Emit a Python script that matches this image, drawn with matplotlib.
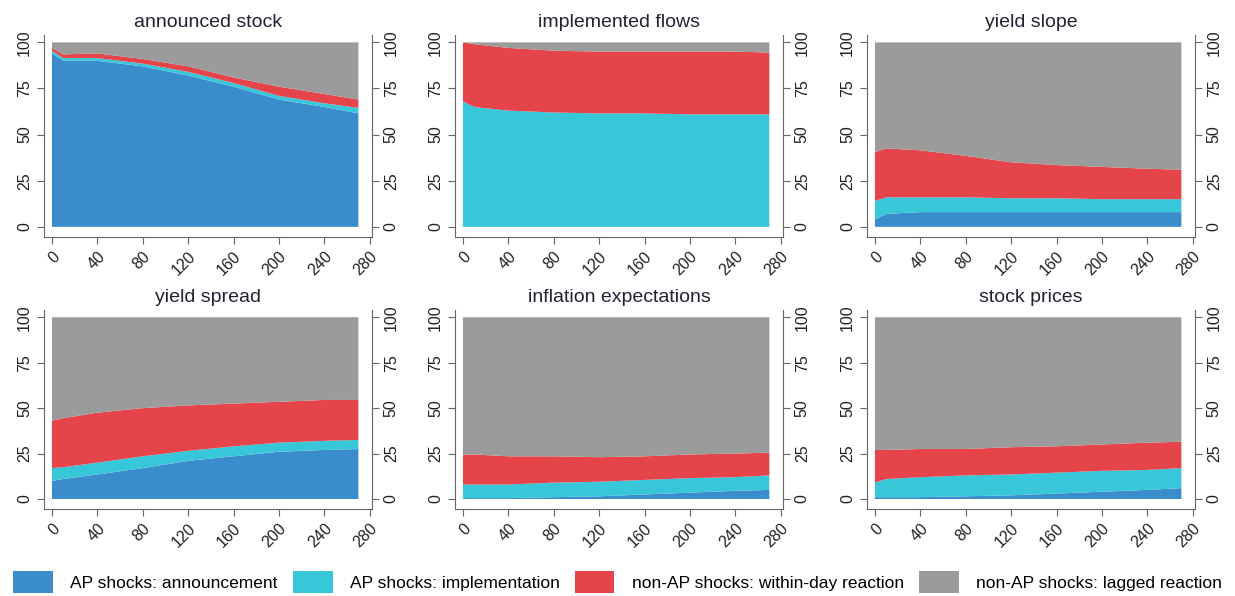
import matplotlib.pyplot as plt
from matplotlib.patches import Patch

plt.rcParams['font.family'] = ['Liberation Sans', 'DejaVu Sans']

# horizon (days) at which the shares were computed
days = [0, 10, 40, 80, 120, 160, 200, 240, 270]

titles = ["announced stock", "implemented flows", "yield slope",
          "yield spread", "inflation expectations", "stock prices"]

labels = ["AP shocks: announcement", "AP shocks: implementation",
          "non-AP shocks: within-day reaction", "non-AP shocks: lagged reaction"]
colors = ["#3b8ccb", "#38c6d9", "#e6444b", "#9b9b9b"]

# variance shares (%) per panel
stock_ann = [94, 90, 90, 87, 82, 76, 69, 65, 61.5]
stock_imp = [1.5, 1.5, 1.5, 1.5, 2, 2, 2, 2, 3]
stock_wd = [1.5, 2, 2.5, 2.5, 3, 3, 5, 5, 4.5]
stock_lag = [3, 6.5, 6, 9, 13, 19, 24, 28, 31]

flows_ann = [0, 0, 0, 0, 0, 0, 0, 0, 0]
flows_imp = [68, 65, 63, 62, 61.5, 61.5, 61, 61, 61]
flows_wd = [32, 34, 34, 33.5, 33.5, 33.5, 34, 34, 33.5]
flows_lag = [0, 1, 3, 4.5, 5, 5, 5, 5, 5.5]

slope_ann = [4, 7, 8, 8, 8, 8, 8, 8, 8]
slope_imp = [10, 9, 8, 8, 7.5, 7.5, 7, 7, 7]
slope_wd = [26.5, 26.5, 25.5, 22.5, 19.5, 18, 17.5, 16.5, 16]
slope_lag = [59.5, 57.5, 58.5, 61.5, 65, 66.5, 67.5, 68.5, 69]

spread_ann = [10, 11, 13.5, 17, 21, 23.5, 26, 27, 27.5]
spread_imp = [7, 6.5, 6.5, 6.5, 5.5, 5.5, 5, 5, 5]
spread_wd = [26, 27, 27.5, 26.5, 25, 23.5, 22.5, 22.5, 22]
spread_lag = [57, 55.5, 52.5, 50, 48.5, 47.5, 46.5, 45.5, 45.5]

infl_ann = [0.5, 0.5, 0.5, 1, 1.5, 2.5, 3.5, 4.5, 5]
infl_imp = [7.5, 7.5, 7.5, 8, 8, 8, 8, 7.5, 8]
infl_wd = [16.5, 16.5, 15.5, 14.5, 13.5, 13, 13, 13, 12.5]
infl_lag = [75.5, 75.5, 76.5, 76.5, 77, 76.5, 75.5, 75, 74.5]

eq_ann = [1, 1, 1, 1.5, 2, 3, 4, 5, 6]
eq_imp = [8, 10, 11, 11.5, 11.5, 11.5, 11.5, 11, 11]
eq_wd = [18, 16, 15.5, 14.5, 15, 14.5, 14.5, 15, 14.5]
eq_lag = [73, 73, 72.5, 72.5, 71.5, 71, 70, 69, 68.5]

panels = [
    (stock_ann, stock_imp, stock_wd, stock_lag),
    (flows_ann, flows_imp, flows_wd, flows_lag),
    (slope_ann, slope_imp, slope_wd, slope_lag),
    (spread_ann, spread_imp, spread_wd, spread_lag),
    (infl_ann, infl_imp, infl_wd, infl_lag),
    (eq_ann, eq_imp, eq_wd, eq_lag),
]

W, H = 1235, 596
fig = plt.figure(figsize=(W / 100, H / 100), dpi=100)

lefts = [44, 455, 867]
rows = [(35, 237), (310, 509)]

for i, (title, shares) in enumerate(zip(titles, panels)):
    top, bot = rows[i // 3]
    left = lefts[i % 3]
    ax = fig.add_axes([left / W, 1 - bot / H, 328 / W, (bot - top) / H])
    ax.stackplot(days, *shares, colors=colors, linewidth=0)
    ax.set_xlim(-7, 282)
    ax.set_ylim(-5.5, 104)
    ax.set_xticks(range(0, 281, 40))
    ax.set_yticks([0, 25, 50, 75, 100])
    ax.tick_params(axis='both', direction='out', length=5, width=0.8,
                   color='#666666', labelcolor='#222222', labelsize=11.5)
    ax.tick_params(axis='y', right=True, labelright=True, labelrotation=90)
    for lab in ax.get_yticklabels():
        lab.set_va('center')
    for lab in ax.get_xticklabels():
        lab.set_rotation(45)
        lab.set_ha('right')
        lab.set_va('top')
        lab.set_rotation_mode('anchor')
    ax.spines['top'].set_visible(False)
    for s in ['left', 'right', 'bottom']:
        ax.spines[s].set_color('#666666')
        ax.spines[s].set_linewidth(0.8)
    ax.set_title(title, fontsize=14, color='#222233', pad=6)

handles = [Patch(facecolor=c, edgecolor='none') for c in colors]
fig.legend(handles, labels, loc='center', bbox_to_anchor=(0.5, 1 - 582 / H),
           ncol=4, frameon=False, fontsize=12.5, handlelength=2.3, handleheight=1.5,
           handletextpad=1.0, columnspacing=0.85, borderaxespad=0)

fig.savefig("out.png", dpi=100)
